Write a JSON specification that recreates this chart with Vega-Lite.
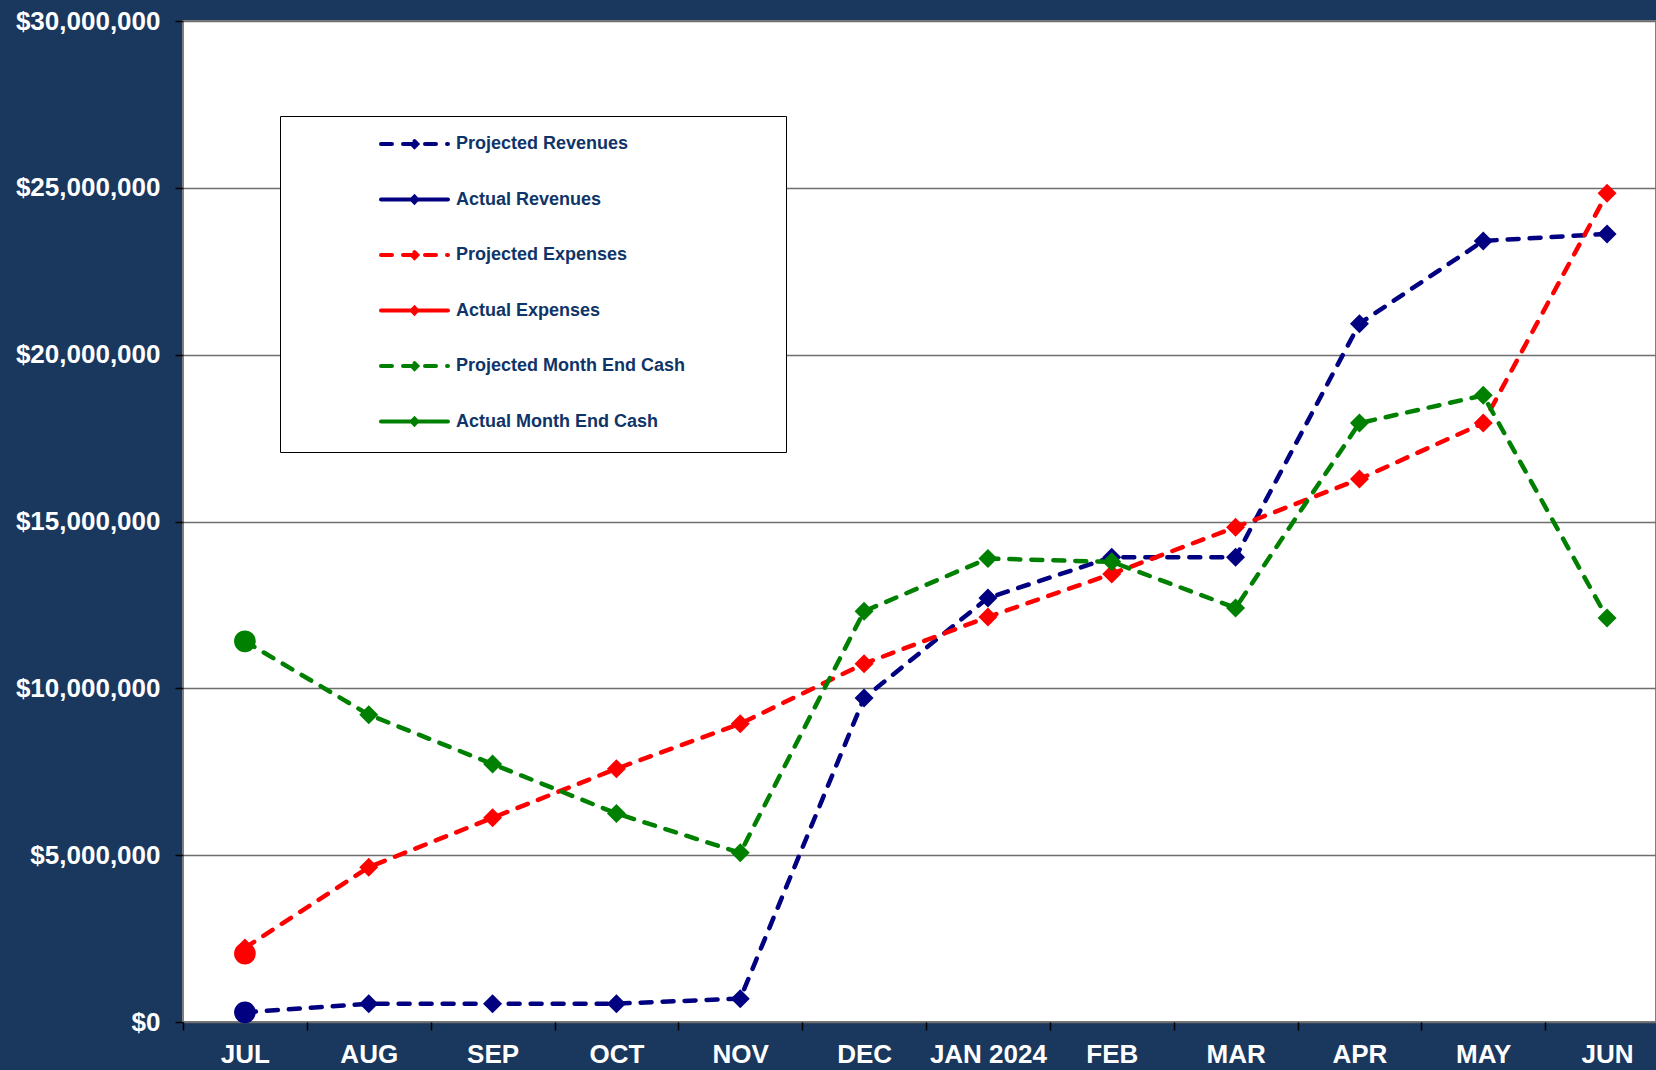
{
  "$schema": "https://vega.github.io/schema/vega-lite/v6.json",
  "width": 1473,
  "height": 1001,
  "autosize": {"type": "none"},
  "padding": {"left": 183, "top": 21, "right": 0, "bottom": 48},
  "background": "#1a375e",
  "config": {
    "view": {"fill": "#ffffff", "stroke": "#7f7f7f", "strokeWidth": 2},
    "font": "Liberation Sans"
  },
  "data": {
    "values": [
      {"month": "JUL", "series": "Projected Revenues", "kind": "Projected", "value": 290000},
      {"month": "AUG", "series": "Projected Revenues", "kind": "Projected", "value": 545000},
      {"month": "SEP", "series": "Projected Revenues", "kind": "Projected", "value": 545000},
      {"month": "OCT", "series": "Projected Revenues", "kind": "Projected", "value": 550000},
      {"month": "NOV", "series": "Projected Revenues", "kind": "Projected", "value": 700000},
      {"month": "DEC", "series": "Projected Revenues", "kind": "Projected", "value": 9710000},
      {"month": "JAN 2024", "series": "Projected Revenues", "kind": "Projected", "value": 12710000},
      {"month": "FEB", "series": "Projected Revenues", "kind": "Projected", "value": 13930000},
      {"month": "MAR", "series": "Projected Revenues", "kind": "Projected", "value": 13930000},
      {"month": "APR", "series": "Projected Revenues", "kind": "Projected", "value": 20930000},
      {"month": "MAY", "series": "Projected Revenues", "kind": "Projected", "value": 23410000},
      {"month": "JUN", "series": "Projected Revenues", "kind": "Projected", "value": 23620000},
      {"month": "JUL", "series": "Projected Expenses", "kind": "Projected", "value": 2220000},
      {"month": "AUG", "series": "Projected Expenses", "kind": "Projected", "value": 4640000},
      {"month": "SEP", "series": "Projected Expenses", "kind": "Projected", "value": 6120000},
      {"month": "OCT", "series": "Projected Expenses", "kind": "Projected", "value": 7590000},
      {"month": "NOV", "series": "Projected Expenses", "kind": "Projected", "value": 8940000},
      {"month": "DEC", "series": "Projected Expenses", "kind": "Projected", "value": 10740000},
      {"month": "JAN 2024", "series": "Projected Expenses", "kind": "Projected", "value": 12140000},
      {"month": "FEB", "series": "Projected Expenses", "kind": "Projected", "value": 13430000},
      {"month": "MAR", "series": "Projected Expenses", "kind": "Projected", "value": 14830000},
      {"month": "APR", "series": "Projected Expenses", "kind": "Projected", "value": 16270000},
      {"month": "MAY", "series": "Projected Expenses", "kind": "Projected", "value": 17950000},
      {"month": "JUN", "series": "Projected Expenses", "kind": "Projected", "value": 24840000},
      {"month": "JUL", "series": "Projected Month End Cash", "kind": "Projected", "value": 11410000},
      {"month": "AUG", "series": "Projected Month End Cash", "kind": "Projected", "value": 9210000},
      {"month": "SEP", "series": "Projected Month End Cash", "kind": "Projected", "value": 7730000},
      {"month": "OCT", "series": "Projected Month End Cash", "kind": "Projected", "value": 6250000},
      {"month": "NOV", "series": "Projected Month End Cash", "kind": "Projected", "value": 5070000},
      {"month": "DEC", "series": "Projected Month End Cash", "kind": "Projected", "value": 12310000},
      {"month": "JAN 2024", "series": "Projected Month End Cash", "kind": "Projected", "value": 13890000},
      {"month": "FEB", "series": "Projected Month End Cash", "kind": "Projected", "value": 13790000},
      {"month": "MAR", "series": "Projected Month End Cash", "kind": "Projected", "value": 12410000},
      {"month": "APR", "series": "Projected Month End Cash", "kind": "Projected", "value": 17950000},
      {"month": "MAY", "series": "Projected Month End Cash", "kind": "Projected", "value": 18780000},
      {"month": "JUN", "series": "Projected Month End Cash", "kind": "Projected", "value": 12110000},
      {"month": "JUL", "series": "Actual Revenues", "kind": "Actual", "value": 290000},
      {"month": "JUL", "series": "Actual Expenses", "kind": "Actual", "value": 2050000},
      {"month": "JUL", "series": "Actual Month End Cash", "kind": "Actual", "value": 11410000}
    ]
  },
  "encoding": {
    "x": {
      "field": "month",
      "type": "nominal",
      "sort": null,
      "scale": {
        "domain": ["JUL", "AUG", "SEP", "OCT", "NOV", "DEC", "JAN 2024", "FEB", "MAR", "APR", "MAY", "JUN"],
        "range": [0, 1486],
        "paddingInner": 0,
        "paddingOuter": 0
      },
      "axis": {
        "title": null,
        "domain": false,
        "grid": false,
        "tickBand": "extent",
        "tickColor": "#000000",
        "tickSize": 8,
        "tickWidth": 1.5,
        "labelAngle": 0,
        "labelColor": "#ffffff",
        "labelFont": "Liberation Sans",
        "labelFontSize": 26,
        "labelFontWeight": "bold",
        "labelPadding": 11,
        "labelOverlap": false,
        "labelLimit": 0
      }
    },
    "y": {
      "field": "value",
      "type": "quantitative",
      "scale": {"domain": [0, 30000000], "nice": false},
      "axis": {
        "title": null,
        "values": [0, 5000000, 10000000, 15000000, 20000000, 25000000, 30000000],
        "format": "$,.0f",
        "domain": false,
        "grid": true,
        "gridColor": "#6e6e6e",
        "gridWidth": 1.5,
        "tickColor": "#000000",
        "tickSize": 8,
        "tickWidth": 1.5,
        "labelColor": "#ffffff",
        "labelFont": "Liberation Sans",
        "labelFontSize": 26,
        "labelFontWeight": "bold",
        "labelPadding": 15,
        "labelFlush": false,
        "labelOverlap": false
      }
    }
  },
  "layer": [
    {
      "transform": [{"filter": "datum.kind === 'Projected'"}],
      "mark": {"type": "line", "strokeWidth": 4.5, "strokeCap": "round"},
      "encoding": {
        "color": {
          "field": "series",
          "type": "nominal",
          "scale": {
            "domain": ["Projected Revenues", "Actual Revenues", "Projected Expenses", "Actual Expenses", "Projected Month End Cash", "Actual Month End Cash"],
            "range": ["#000080", "#000080", "#ff0000", "#ff0000", "#008000", "#008000"]
          },
          "legend": {
            "title": null,
            "orient": "none",
            "legendX": 97,
            "legendY": 95,
            "fillColor": "#ffffff",
            "strokeColor": "#000000",
            "padding": 19,
            "rowPadding": 33.5,
            "labelOffset": 32.5,
            "symbolOffset": 106.5,
            "symbolType": "M-16.5,0M49.2,0M-4.786,0H4.786M0,-0.4L0.4,0L0,0.4L-0.4,0Z",
            "symbolSize": 196,
            "symbolStrokeWidth": 4,
            "labelFont": "Liberation Sans",
            "labelFontSize": 18,
            "labelFontWeight": "bold",
            "labelColor": "#0f3468",
            "labelLimit": 0,
            "encode": {
              "symbols": {
                "update": {
                  "fill": {"scale": "color", "field": "value"},
                  "stroke": {"scale": "color", "field": "value"},
                  "strokeDash": {"scale": "strokeDash", "field": "value"},
                  "strokeCap": {"value": "round"},
                  "opacity": {"value": 1}
                }
              }
            }
          }
        },
        "strokeDash": {
          "field": "series",
          "type": "nominal",
          "scale": {
            "domain": ["Projected Revenues", "Actual Revenues", "Projected Expenses", "Actual Expenses", "Projected Month End Cash", "Actual Month End Cash"],
            "range": [[11, 11], [1, 0], [11, 11], [1, 0], [11, 11], [1, 0]]
          },
          "legend": null
        }
      }
    },
    {
      "transform": [{"filter": "datum.kind === 'Projected'"}],
      "mark": {"type": "point", "shape": "diamond", "filled": true, "size": 361, "opacity": 1},
      "encoding": {
        "color": {"field": "series", "type": "nominal", "legend": null}
      }
    },
    {
      "transform": [{"filter": "datum.kind === 'Actual'"}],
      "mark": {"type": "point", "shape": "circle", "filled": true, "size": 470, "opacity": 1},
      "encoding": {
        "color": {"field": "series", "type": "nominal", "legend": null}
      }
    }
  ]
}
